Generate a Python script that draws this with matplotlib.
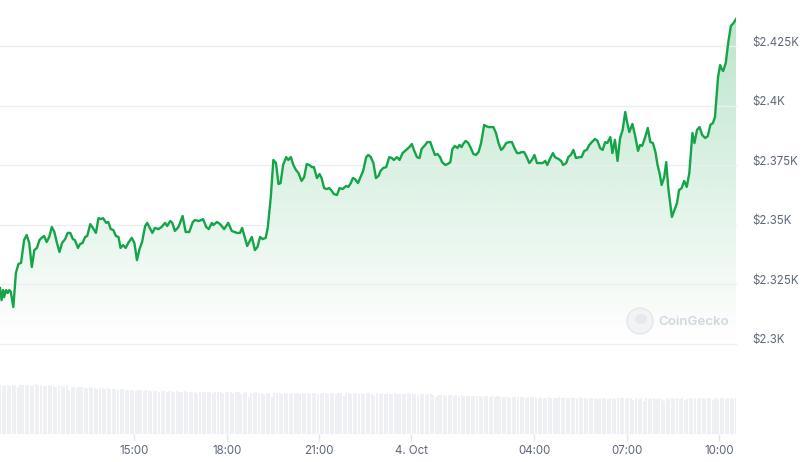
import numpy as np
import pandas as pd
import matplotlib
matplotlib.use("Agg")
import matplotlib.pyplot as plt
import matplotlib.dates as mdates
from matplotlib.transforms import ScaledTranslation
from matplotlib.patches import Circle, Ellipse

plt.rcParams['font.family'] = ['Inter', 'DejaVu Sans']

START = pd.Timestamp('2024-10-03 10:38')

minutes = [
    0, 3, 6, 8, 12, 15, 18, 21, 26, 31,
    36, 41, 47, 52, 57, 62, 67, 72, 77, 81,
    86, 91, 96, 101, 106, 111, 116, 121, 127, 132,
    137, 142, 146, 152, 156, 161, 166, 170, 176, 181,
    187, 192, 197, 201, 207, 211, 216, 221, 226, 231,
    235, 240, 245, 250, 257, 262, 267, 272,
    277, 283, 287, 291, 297, 302, 309, 315, 322, 326,
    332, 336, 341, 348, 356, 362, 369, 376, 380, 387,
    393, 396, 402, 407, 413, 416, 423, 429, 437, 445,
    452, 462, 468, 472, 482, 491, 497, 502, 507, 512, 518, 522,
    528, 533, 538, 543, 547, 552, 558, 562, 567, 572,
    577, 582, 588, 593, 598, 603, 608, 612, 618, 623,
    627, 632, 637, 642, 647, 651, 657, 662, 668, 675,
    679, 684, 688, 692, 698, 703, 708, 714, 718, 723,
    728, 733, 738, 742, 747, 753, 759, 764, 768, 774, 779,
    785, 792, 798, 803, 807, 813, 818, 822, 829, 833,
    839, 843, 848, 853, 858, 862, 868, 873, 878, 882,
    887, 892, 896, 900, 903, 908, 913, 918, 923, 928,
    933, 938, 944, 948, 952, 957, 962, 967, 972, 977,
    981, 987, 993, 998, 1003, 1008, 1013, 1017, 1022, 1027,
    1032, 1037, 1042, 1047, 1052,
    1058, 1063, 1067, 1073, 1078, 1082, 1089, 1094, 1098, 1104,
    1108, 1113, 1118, 1123, 1130, 1134, 1139, 1144, 1149, 1154,
    1160, 1165, 1170, 1175, 1180, 1184, 1190, 1194, 1199, 1204,
    1209, 1214, 1219, 1223, 1227, 1233, 1238, 1244, 1248, 1252,
    1258, 1263, 1268, 1273, 1278, 1282, 1286, 1290, 1295, 1299,
    1303, 1307, 1310, 1315, 1320, 1324, 1329, 1334, 1339, 1344,
    1350, 1354, 1359, 1364, 1369, 1375, 1380, 1385, 1390, 1394,
    1400, 1404, 1407, 1410, 1415, 1420, 1425, 1430, 1435,
]

prices = [
    2323.5, 2318.4, 2322.6, 2319.7, 2322.6, 2321.4, 2322.6, 2321.9, 2315.5, 2329.8,
    2333.6, 2334.0, 2343.6, 2345.7, 2342.4, 2332.3, 2339.4, 2340.3, 2343.6, 2344.5,
    2345.3, 2342.8, 2344.9, 2349.1, 2347.0, 2342.4, 2338.6, 2342.4, 2344.0, 2346.6,
    2346.6, 2344.0, 2343.6, 2340.3, 2341.9, 2342.4, 2344.9, 2345.3, 2350.3, 2348.7,
    2346.6, 2352.8, 2352.4, 2352.8, 2350.8, 2351.2, 2348.2, 2347.8, 2345.3, 2344.9,
    2340.3, 2341.5, 2340.3, 2342.4, 2344.5, 2342.4, 2335.2, 2339.8,
    2342.8, 2349.5, 2350.8, 2349.1, 2346.6, 2348.7, 2348.2, 2349.1, 2350.8, 2349.5,
    2351.6, 2350.8, 2347.4, 2349.1, 2353.7, 2347.0, 2347.0, 2351.2, 2352.0, 2351.6,
    2352.0, 2352.4, 2349.1, 2348.2, 2350.8, 2349.9, 2351.2, 2350.3, 2348.2, 2350.8,
    2347.4, 2346.6, 2346.6, 2348.7, 2341.1, 2344.9, 2339.4, 2340.7, 2344.9, 2344.0, 2344.5, 2348.7,
    2361.7, 2377.2, 2375.9, 2367.1, 2367.5, 2375.1, 2378.4, 2377.2, 2378.4, 2375.1,
    2373.0, 2371.7, 2368.4, 2370.0, 2375.5, 2375.1, 2374.2, 2374.2, 2369.6, 2371.3,
    2369.6, 2365.4, 2365.0, 2365.4, 2364.2, 2362.9, 2362.5, 2365.4, 2365.0, 2366.3,
    2365.9, 2367.5, 2369.6, 2369.2, 2367.5, 2370.0, 2372.6, 2378.4, 2379.3, 2378.4,
    2375.9, 2369.6, 2370.5, 2372.6, 2373.8, 2374.2, 2378.4, 2378.0, 2377.2, 2378.4, 2377.2,
    2380.1, 2381.4, 2382.6, 2383.9, 2381.4, 2378.4, 2378.0, 2381.8, 2383.5, 2384.7,
    2384.7, 2382.2, 2379.3, 2379.7, 2378.4, 2376.3, 2375.1, 2375.5, 2376.3, 2381.8,
    2383.1, 2382.2, 2383.5, 2382.6, 2383.9, 2385.2, 2384.3, 2382.2, 2379.7, 2379.3,
    2380.5, 2384.3, 2391.9, 2391.4, 2391.0, 2391.0, 2391.0, 2388.5, 2384.3, 2381.4,
    2382.2, 2384.3, 2384.7, 2384.7, 2382.2, 2380.1, 2380.1, 2380.5, 2380.5, 2378.4,
    2375.9, 2377.2, 2379.3, 2375.9, 2375.9,
    2375.9, 2376.8, 2375.1, 2378.0, 2380.1, 2378.4, 2377.6, 2376.8, 2375.1, 2375.9,
    2378.4, 2379.3, 2381.4, 2378.0, 2378.4, 2378.4, 2381.0, 2381.4, 2383.5, 2384.7,
    2386.0, 2385.2, 2382.2, 2381.4, 2384.7, 2384.3, 2386.8, 2380.1, 2385.6, 2376.8,
    2386.4, 2389.8, 2397.3, 2392.7, 2388.9, 2392.3, 2387.7, 2381.0, 2383.5, 2383.1,
    2386.8, 2390.6, 2384.7, 2384.3, 2380.5, 2375.1, 2371.7, 2366.7, 2370.0, 2376.3,
    2365.4, 2358.3, 2353.3, 2356.2, 2359.1, 2364.6, 2365.4, 2368.4, 2365.9, 2371.7,
    2388.5, 2384.3, 2389.8, 2391.0, 2387.7, 2386.4, 2387.2, 2391.9, 2392.7, 2395.2,
    2412.0, 2417.0, 2415.4, 2414.5, 2417.9, 2426.7, 2433.4, 2434.6, 2436.3,
]

volume = [
    49, 48, 49, 49, 48, 49, 49, 47, 49, 49,
    49, 49, 48, 49, 50, 49, 49, 48, 48, 49,
    48, 48, 47, 48, 48, 47, 48, 44, 47, 47,
    46, 47, 47, 46, 46, 47, 46, 46, 45, 46,
    46, 45, 46, 45, 45, 45, 44, 45, 45, 44,
    44, 44, 44, 43, 44, 44, 43, 44, 43,
    43, 43, 43, 42, 43, 43, 42, 43, 43, 42, 43,
    42, 42, 43, 42, 42, 42, 42, 41, 42, 42,
    42, 42, 42, 41, 42, 42, 42, 41, 42, 42,
    42, 41, 42, 42, 40, 41, 42, 37, 41, 41, 42,
    41, 41, 40, 41, 41, 37, 41, 41, 41, 40,
    41, 41, 40, 41, 41, 41, 40, 41, 41, 41,
    40, 41, 41, 40, 41, 41, 41, 40, 41, 41,
    40, 41, 41, 38, 41, 41, 40, 41, 41, 40,
    41, 40, 41, 41, 40, 38, 41, 40, 41, 40, 40,
    40, 40, 41, 40, 40, 40, 40, 41, 40, 40,
    40, 39, 40, 40, 39, 40, 40, 39, 37, 39,
    39, 39, 38, 39, 39, 38, 39, 38, 39, 38,
    38, 38, 37, 38, 38, 38, 37, 38, 38, 37,
    38, 37, 38, 37, 37, 37, 37, 36, 37, 37,
    37, 37, 37, 36, 37, 37, 37, 36, 36, 37,
    36, 36, 37, 36, 36, 36, 37, 36, 36, 36,
    36, 36, 36, 36, 37, 36, 36, 35, 36, 36,
    36, 35, 36, 36, 36, 35, 36, 36, 35, 36,
    36, 36, 35, 36, 36, 34, 36, 35, 36, 33,
    36, 35, 36, 36, 35, 36, 35, 33, 36, 35,
    36, 35, 36, 35, 36, 34, 35, 36, 35, 36,
    35, 36, 36, 35, 36, 36, 34, 36, 35, 36, 36, 35, 36,
    36, 35, 36,
]

ytick_values = [2300, 2325, 2350, 2375, 2400, 2425]
ytick_labels = ['$2.3K', '$2.325K', '$2.35K', '$2.375K', '$2.4K', '$2.425K']
xtick_times = ['2024-10-03 15:00', '2024-10-03 18:00', '2024-10-03 21:00',
               '2024-10-04 00:00', '2024-10-04 04:00', '2024-10-04 07:00',
               '2024-10-04 10:00']
xtick_labels = ['15:00', '18:00', '21:00', '4. Oct', '04:00', '07:00', '10:00']

n = min(len(minutes), len(prices))
times = START + pd.to_timedelta(minutes[:n], unit='min')
prices = np.array(prices[:n])
vol_times = pd.date_range(START, periods=len(volume), freq='5min')

W, H = 806, 462
fig = plt.figure(figsize=(W / 100, H / 100), dpi=100)
fig.patch.set_facecolor('white')

PLOT_W = 736
ax = fig.add_axes([0, (H - 344) / H, PLOT_W / W, 344 / H])
axv = fig.add_axes([0, (H - 434) / H, PLOT_W / W, 64 / H])

LINE = '#13a548'
GREEN_RGB = np.array([0x13, 0xa5, 0x48]) / 255.0
GRID = '#eceff2'
TXT = '#5e6878'

ymin, ymax = 2300, 2444.3
tx = mdates.date2num(times)
xmin, xmax = tx[0], tx[-1]

# gradient fill under line
grad = np.zeros((256, 1, 4))
grad[..., :3] = GREEN_RGB
grad[..., 3] = np.linspace(0.0, 0.30, 256)[:, None]
im = ax.imshow(grad, extent=[xmin, xmax, ymin, ymax], origin='lower',
               aspect='auto', zorder=1, interpolation='bilinear')
poly = ax.fill_between(times, prices, ymin, color='none', lw=0)
im.set_clip_path(poly.get_paths()[0], transform=ax.transData)

for v in ytick_values:
    ax.axhline(v, color=GRID, lw=1.0, zorder=2, clip_on=False)

ax.plot(times, prices, color=LINE, lw=1.7, zorder=3, solid_joinstyle='round')

ax.set_xlim(xmin, xmax)
ax.set_ylim(ymin, ymax)
for s in ax.spines.values():
    s.set_visible(False)
ax.set_xticks([])
ax.yaxis.tick_right()
ax.set_yticks(ytick_values)
ax.set_yticklabels(ytick_labels)
ax.tick_params(axis='y', length=0, pad=11.5, labelsize=8.3, labelcolor=TXT)
for lab in ax.get_yticklabels():
    lab.set_horizontalalignment('left')
    lab.set_transform(lab.get_transform() + ScaledTranslation(0, 5 / 100, fig.dpi_scale_trans))
ax.patch.set_alpha(0)

# volume bars
axv.bar(vol_times, volume, width=4.0 / 1440, color='#eef0f3', lw=0, align='center')
axv.set_xlim(xmin, xmax)
axv.set_ylim(0, 64)
for s in axv.spines.values():
    s.set_visible(False)
axv.set_yticks([])
axv.set_xticks(mdates.date2num(pd.to_datetime(xtick_times)))
axv.set_xticklabels(xtick_labels)
axv.tick_params(axis='x', length=5, width=1, color='#e3e6ea', pad=3,
                labelsize=8.3, labelcolor=TXT)
axv.patch.set_alpha(0)

# watermark
cx, cy, r = 640, 321, 13
circ = Circle((cx / 100, (H - cy) / 100), r / 100, transform=fig.dpi_scale_trans,
              facecolor='#f1f3f5', edgecolor='#e4e7ea', lw=1.0, zorder=5)
fig.patches.append(circ)
head = Ellipse(((cx + 1) / 100, (H - cy + 2) / 100), 12 / 100, 10 / 100,
               transform=fig.dpi_scale_trans, facecolor='#e6e9ec', lw=0, zorder=6)
fig.patches.append(head)
fig.text(658 / W, 1 - 322 / H, 'CoinGecko', fontsize=9.6, color='#d3d8dd',
         fontweight='semibold', ha='left', va='center', zorder=6)

fig.savefig('out.png', dpi=100, facecolor='white')
